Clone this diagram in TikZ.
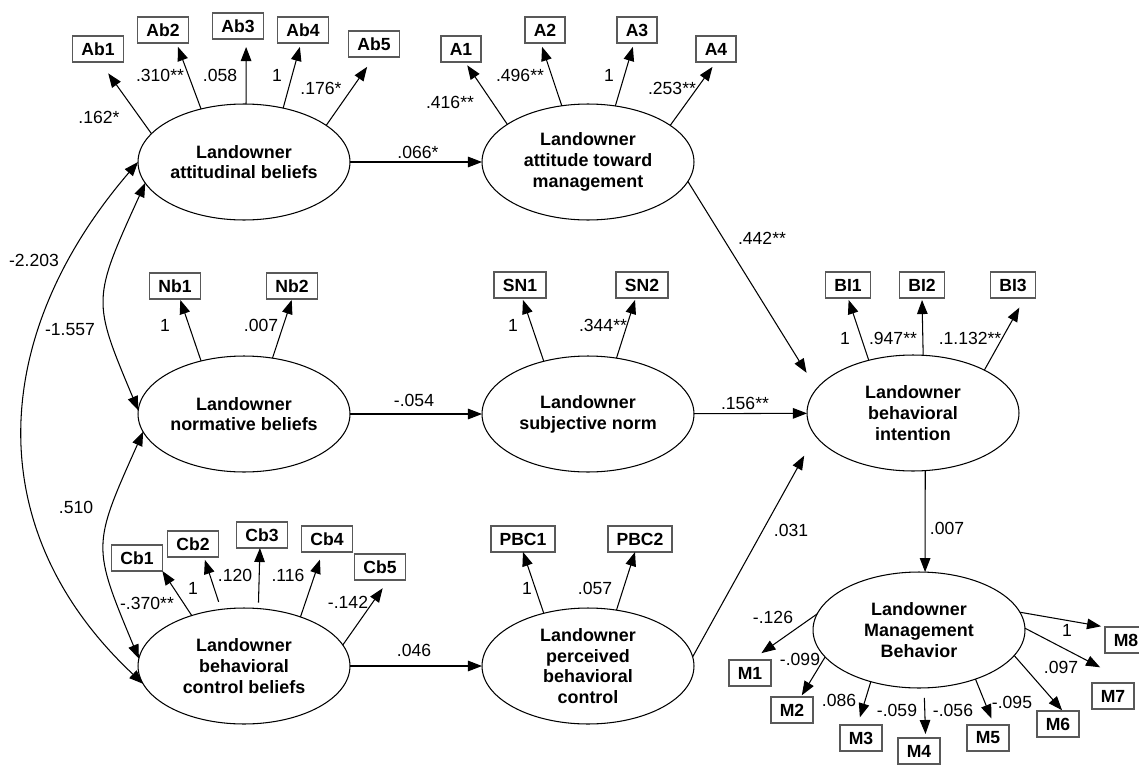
\documentclass[tikz,border=0pt]{standalone}
\usepackage{fontspec}
\setmainfont{Liberation Sans}
\usetikzlibrary{positioning,shapes.geometric,arrows.meta}

\begin{document}
\begin{tikzpicture}[x=0.02cm,y=-0.02cm,
		latent/.style={draw=black, ellipse, line width=0.6pt, minimum width=4.24cm, minimum height=2.32cm, inner sep=0pt, outer sep=0pt, align=center, font=\fontsize{10.2}{11.8}\selectfont\bfseries},
		item/.style={draw=black!65, line width=0.9pt, minimum height=14.8pt, inner xsep=5pt, inner ysep=0pt, outer sep=0pt, font=\fontsize{10}{12}\selectfont\bfseries},
		link/.style={-{Triangle[length=8pt,width=6pt]}, line width=0.6pt},
		cov/.style={{Triangle[length=8pt,width=6pt]}-{Triangle[length=8pt,width=6pt]}, line width=0.6pt},
		coef/.style={font=\fontsize{10}{12}\selectfont, inner sep=0pt},
		tipgap/.style={shorten >=#1*0.02cm},
		tailgap/.style={shorten <=#1*0.02cm}]
		\useasboundingbox (0,0) rectangle (1139,764);
		
		% latent constructs
		\node[latent] (AB) at (244,162) {Landowner\\attitudinal beliefs};
		\node[latent] (ATT) at (588,162) {Landowner\\attitude toward\\management};
		\node[latent] (NB) at (244,414) {Landowner\\normative beliefs};
		\node[latent] (SN) at (588,414) {Landowner\\subjective norm};
		\node[latent] (CB) at (244,666) {Landowner\\behavioral\\control beliefs};
		\node[latent] (PBC) at (588,666) {Landowner\\perceived\\behavioral\\control};
		\node[latent] (BI) at (913,413) {Landowner\\behavioral\\intention};
		\node[latent] (MB) at (919,630) {Landowner\\Management\\Behavior};
		
		% observed items
		\node[item] (Ab1) at (98,49) {Ab1};
		\node[item] (Ab2) at (163,30) {Ab2};
		\node[item] (Ab3) at (238,26) {Ab3};
		\node[item] (Ab4) at (303,30) {Ab4};
		\node[item] (Ab5) at (374,44) {Ab5};
		\node[item] (A1) at (461,49) {A1};
		\node[item] (A2) at (545,30) {A2};
		\node[item] (A3) at (637,30) {A3};
		\node[item] (A4) at (716,49) {A4};
		\node[item] (Nb1) at (175,286) {Nb1};
		\node[item] (Nb2) at (292,286) {Nb2};
		\node[item] (SN1) at (520,285) {SN1};
		\node[item] (SN2) at (642,285) {SN2};
		\node[item] (BI1) at (848,285) {BI1};
		\node[item] (BI2) at (922,285) {BI2};
		\node[item] (BI3) at (1013,285) {BI3};
		\node[item] (Cb1) at (137,558) {Cb1};
		\node[item] (Cb2) at (193,544) {Cb2};
		\node[item] (Cb3) at (262,535) {Cb3};
		\node[item] (Cb4) at (327,539) {Cb4};
		\node[item] (Cb5) at (380,567) {Cb5};
		\node[item] (PBC1) at (523,539) {PBC1};
		\node[item] (PBC2) at (640,539) {PBC2};
		\node[item] (M1) at (750,673) {M1};
		\node[item] (M2) at (792,710) {M2};
		\node[item] (M3) at (861,738) {M3};
		\node[item] (M4) at (919,751) {M4};
		\node[item] (M5) at (988,738) {M5};
		\node[item] (M6) at (1058,724) {M6};
		\node[item] (M7) at (1113,696) {M7};
		\node[item] (M8) at (1126,640) {M8};
		
		% loadings
		\draw[link, tipgap=14] (AB.163) -- (Ab1.-81);
		\draw[link, tipgap=4] (AB.129) -- (Ab2.-44);
		\draw[link, tipgap=8] (AB.88) -- (Ab3.-58);
		\draw[link, tipgap=4] (AB.54) -- (Ab4.-99);
		\draw[link, tipgap=12] (AB.24) -- (Ab5.-90);
		\draw[link, tipgap=4] (ATT.155) -- (A1.-73);
		\draw[link, tipgap=4] (ATT.115) -- (A2.-108);
		\draw[link, tipgap=4] (ATT.64) -- (A3.-103);
		\draw[link, tipgap=6] (ATT.24) -- (A4.-90);
		\draw[link, tipgap=1] (NB.129) -- (Nb1.-69);
		\draw[link, tipgap=1] (NB.63) -- (Nb2.-90);
		\draw[link, tipgap=2] (SN.130) -- (SN1.-80);
		\draw[link, tipgap=2] (SN.63) -- (SN2.-116);
		\draw[link, tipgap=2] (BI.130) -- (BI1.-90);
		\draw[link, tipgap=2] (BI.80) -- (BI2.-90);
		\draw[link, tipgap=11] (BI.31) -- (BI3.-48);
		\draw[link] (CB.136) -- (Cb1.south east);
		\draw[link, tipgap=3, tailgap=8] (CB.112) -- (Cb2.-50);
		\draw[link, tailgap=6] (CB.76) -- (Cb3.-99);
		\draw[link, tipgap=8] (CB.41) -- (Cb4.-109);
		\draw[link, tipgap=10] (CB.12) -- (Cb5.-57);
		\draw[link] (PBC.130) -- (PBC1.-90);
		\draw[link] (PBC.63) -- (PBC2.-111);
		\draw[link, tipgap=12] (MB.171) -- (M1.83);
		\draw[link, tipgap=2] (MB.196) -- (M2.56);
		\draw[link, tipgap=8] (MB.227) -- (M3.105);
		\draw[link, tipgap=4, tailgap=10] (MB.275) -- (M4.63);
		\draw[link, tipgap=7] (MB.319) -- (M5.65);
		\draw[link, tipgap=1] (MB.345) -- (M6.70);
		\draw[link, tipgap=34] (MB.1) -- (M7.37);
		\draw[link, tipgap=4] (MB.10) -- (M8.north west);
		
		% structural paths
		\draw[link] (AB) -- (ATT);
		\draw[link] (NB) -- (SN);
		\draw[link] (CB) -- (PBC);
		\draw[link] (SN) -- (BI);
		\draw[link, tipgap=19] (ATT.-11) -- (BI.166);
		\draw[link, tipgap=23] (PBC.5) -- (BI.193);
		\draw[link] (BI.-78) -- (MB.84);
		
		% covariances
		\draw[cov] (AB.180) .. controls (-9,333) and (-23,528) .. (CB.190);
		\draw[cov] (AB.192) .. controls (92,300) .. (NB.178);
		\draw[cov] (NB.190) .. controls (92,546) .. (CB.176);
		
		% coefficients
		\node[coef] (wAb1) at (99,117) {.162*};
		\node[coef] (wAb2) at (160,75) {.310**};
		\node[coef] (wAb3) at (220,75) {.058};
		\node[coef] (wAb4) at (277,75) {1};
		\node[coef] (wAb5) at (321,88) {.176*};
		\node[coef] (wA1) at (450,102) {.416**};
		\node[coef] (wA2) at (520,75) {.496**};
		\node[coef] (wA3) at (609,75) {1};
		\node[coef] (wA4) at (672,88) {.253**};
		\node[coef] (wNb1) at (165,325) {1};
		\node[coef] (wNb2) at (261,325) {.007};
		\node[coef] (wSN1) at (513,325) {1};
		\node[coef] (wSN2) at (603,325) {.344**};
		\node[coef] (wBI1) at (845,338) {1};
		\node[coef] (wBI2) at (893,338) {.947**};
		\node[coef] (wBI3) at (970,338) {.1.132**};
		\node[coef] (wCb1) at (147,603) {-.370**};
		\node[coef] (wCb2) at (193,588) {1};
		\node[coef] (wCb3) at (235,575) {.120};
		\node[coef] (wCb4) at (288,575) {.116};
		\node[coef] (wCb5) at (348,602) {-.142};
		\node[coef] (wPBC1) at (527,588) {1};
		\node[coef] (wPBC2) at (595,588) {.057};
		\node[coef] (wM1) at (773,617) {-.126};
		\node[coef] (wM2) at (800,659) {-.099};
		\node[coef] (wM3) at (839,700) {.086};
		\node[coef] (wM4) at (897,710) {-.059};
		\node[coef] (wM5) at (953,710) {-.056};
		\node[coef] (wM6) at (1012,702) {-.095};
		\node[coef] (wM7) at (1061,667) {.097};
		\node[coef] (wM8) at (1067,630) {1};
		\node[coef] (bAB) at (418,152) {.066*};
		\node[coef] (bNB) at (414,400) {-.054};
		\node[coef] (bCB) at (414,650) {.046};
		\node[coef] (bATT) at (762,238) {.442**};
		\node[coef] (bSN) at (745,403) {.156**};
		\node[coef] (bPBC) at (791,530) {.031};
		\node[coef] (bBI) at (947,528) {.007};
		\node[coef] (rAN) at (34,260) {-2.203};
		\node[coef] (rAB) at (70,330) {-1.557};
		\node[coef] (rNC) at (76,507) {.510};
	\end{tikzpicture}
\end{document}
